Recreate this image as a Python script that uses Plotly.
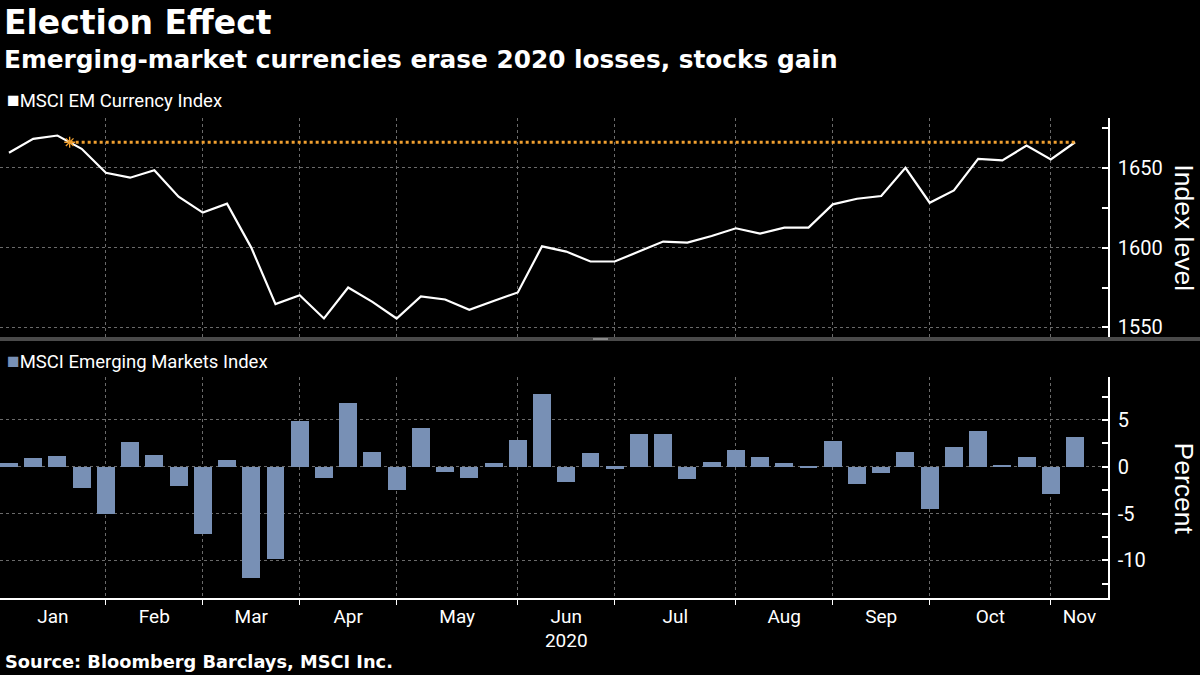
import pandas as pd
import plotly.graph_objects as go

# ---- data ----
dates = pd.date_range("2020-01-03", periods=45, freq="W-FRI")
currency_index = [1659.4, 1668.1, 1670.2, 1661.9, 1646.9, 1643.8, 1648.5, 1631.9, 1621.9, 1627.5,
                  1600.0, 1564.6, 1570.2, 1555.6, 1575.0, 1566.0, 1555.6, 1569.4, 1567.5, 1561.0,
                  1566.6, 1571.9, 1600.8, 1597.5, 1591.3, 1591.3, 1597.5, 1603.8, 1603.1, 1607.3,
                  1612.1, 1608.8, 1612.5, 1612.5, 1627.1, 1630.6, 1632.3, 1650.0, 1628.1, 1635.8,
                  1655.6, 1654.6, 1663.9, 1655.2, 1666.0]
em_stocks_pct = [0.45, 0.93, 1.2, -2.3, -5.0, 2.7, 1.3, -2.0, -7.2, 0.68,
                 -11.9, -9.8, 4.95, -1.2, 6.85, 1.54, -2.44, 4.2, -0.5, -1.15,
                 0.46, 2.83, 7.8, -1.58, 1.43, -0.18, 3.47, 3.47, -1.26, 0.57,
                 1.75, 1.0, 0.36, -0.05, 2.73, -1.87, -0.68, 1.54, -4.5, 2.17,
                 3.8, 0.14, 1.1, -2.87, 3.16]
top_ticks = [1550, 1600, 1650]
bottom_ticks = [5, 0, -5, -10]
month_labels = ["Jan", "Feb", "Mar", "Apr", "May", "Jun<br>2020", "Jul", "Aug", "Sep", "Oct", "Nov"]

title = "Election Effect"
subtitle = "Emerging-market currencies erase 2020 losses, stocks gain"
source = "Source: Bloomberg Barclays, MSCI Inc."

# ---- styling ----
W, H = 1200, 675
BG = "#000000"
WHITE = "#ffffff"
BAR = "#7890b5"
ORANGE = "#f0a030"
GRID = "#6a6a6a"
TICKFONT = "Liberation Sans Narrow, Roboto, Open Sans, sans-serif"
TITLEFONT = "Liberation Sans, Arial, sans-serif"
BOLDFONT = "DejaVu Sans, Noto Sans, sans-serif"

week = pd.Timedelta(days=7)
x_left = dates[0] - 0.37 * week
x_right = dates[-1] + 1.36 * week

# month boundaries: last week of each month (except the final month)
s = pd.Series(range(len(dates)), index=dates)
last_idx = s.groupby(dates.to_period("M")).max().tolist()
bounds = [dates[i] for i in last_idx[:-1]]
edges = [x_left] + bounds + [x_right]
mids = [edges[k] + (edges[k + 1] - edges[k]) / 2 for k in range(len(edges) - 1)]

# orange reference line: from where the series first falls below the final level
level = currency_index[-1]
start = dates[0]
for i in range(len(currency_index) - 1):
    a, b = currency_index[i], currency_index[i + 1]
    if a >= level > b:
        f = (a - level) / (a - b)
        start = dates[i] + f * week
        break

def py(y):
    return 1 - y / H

def px(x):
    return x / W

X_DOM = [0, px(1108)]
TOP_DOM = [py(338), py(118)]
BOT_DOM = [py(600), py(378)]

fig = go.Figure()
fig.add_trace(go.Scatter(x=dates, y=currency_index, mode="lines",
                         line=dict(color=WHITE, width=2.2), xaxis="x", yaxis="y",
                         showlegend=False, hoverinfo="skip"))
fig.add_trace(go.Scatter(x=[start, dates[-1]], y=[level, level], mode="lines",
                         line=dict(color=ORANGE, width=3, dash="dot"), xaxis="x", yaxis="y",
                         showlegend=False, hoverinfo="skip"))
fig.add_trace(go.Scatter(x=[start], y=[level], mode="markers",
                         marker=dict(symbol="asterisk-open", size=9, color=ORANGE,
                                     line=dict(color=ORANGE, width=1.3)),
                         xaxis="x", yaxis="y", showlegend=False, hoverinfo="skip"))
fig.add_trace(go.Bar(x=dates, y=em_stocks_pct, marker=dict(color=BAR, line=dict(width=0)),
                     width=0.74 * 7 * 86400000, xaxis="x2", yaxis="y2",
                     showlegend=False, hoverinfo="skip"))

minor_x = dict(tickmode="array", tickvals=bounds, showgrid=True, gridcolor=GRID,
               griddash="dot", gridwidth=1)

fig.update_layout(
    width=W, height=H, paper_bgcolor=BG, plot_bgcolor=BG,
    margin=dict(l=0, r=0, t=0, b=0),
    bargap=0,
    xaxis=dict(domain=X_DOM, anchor="y", range=[x_left, x_right], type="date",
               tickmode="array", tickvals=mids, ticktext=[""] * len(mids),
               showgrid=False, ticks="", showline=False, zeroline=False,
               minor=dict(minor_x, ticks=""), showticklabels=False),
    yaxis=dict(domain=TOP_DOM, anchor="x", side="right", range=[1544, 1681.4],
               tickmode="array", tickvals=top_ticks, ticktext=[str(v) for v in top_ticks],
               showgrid=True, gridcolor=GRID, griddash="dot", gridwidth=1,
               ticks="inside", ticklen=6, tickcolor=WHITE, tickwidth=1.5,
               showline=True, linecolor=WHITE, linewidth=1.5, zeroline=False,
               minor=dict(tickmode="array", tickvals=[1575, 1625, 1675], ticks="inside",
                          ticklen=6, tickcolor=WHITE, showgrid=False),
               tickfont=dict(family=TICKFONT, size=20, color=WHITE), ticklabelstandoff=4),
    xaxis2=dict(domain=X_DOM, anchor="y2", range=[x_left, x_right], type="date",
                tickmode="array", tickvals=mids, ticktext=month_labels,
                showgrid=False, ticks="", showline=True, linecolor=WHITE, linewidth=1.5,
                zeroline=False,
                minor=dict(minor_x, ticks="outside", ticklen=5, tickcolor=WHITE),
                tickfont=dict(family=TICKFONT, size=19, color=WHITE)),
    yaxis2=dict(domain=BOT_DOM, anchor="x2", side="right", range=[-14.05, 9.6],
                tickmode="array", tickvals=bottom_ticks, ticktext=[str(v) for v in bottom_ticks],
                showgrid=True, gridcolor=GRID, griddash="dot", gridwidth=1,
                ticks="inside", ticklen=6, tickcolor=WHITE, tickwidth=1.5,
                showline=True, linecolor=WHITE, linewidth=1.5, zeroline=False,
                minor=dict(tickmode="array", tickvals=[7.5, 2.5, -2.5, -7.5, -12.5],
                           ticks="inside", ticklen=6, tickcolor=WHITE, showgrid=False),
                tickfont=dict(family=TICKFONT, size=20, color=WHITE), ticklabelstandoff=4),
    shapes=[
        dict(type="rect", xref="paper", yref="paper", x0=0, x1=1, y0=py(342), y1=py(338),
             fillcolor="#4a4a4a", line=dict(width=0), layer="above"),
        dict(type="rect", xref="paper", yref="paper", x0=px(593), x1=px(608),
             y0=py(341), y1=py(339), fillcolor="#8a8a8a", line=dict(width=0), layer="above"),
    ],
    annotations=[
        dict(text=f"<b>{title}</b>", x=px(2), y=py(23), xref="paper", yref="paper",
             xanchor="left", yanchor="middle", showarrow=False,
             font=dict(family=BOLDFONT, size=33, color=WHITE)),
        dict(text=f"<b>{subtitle}</b>", x=px(2), y=py(60), xref="paper", yref="paper",
             xanchor="left", yanchor="middle", showarrow=False,
             font=dict(family=BOLDFONT, size=24.8, color=WHITE)),
        dict(text=f"<span style='color:{WHITE};font-size:21px'>■</span>MSCI EM Currency Index",
             x=px(5), y=py(100), xref="paper", yref="paper", xanchor="left", yanchor="middle",
             showarrow=False, font=dict(family=TICKFONT, size=18.5, color=WHITE)),
        dict(text=f"<span style='color:{BAR};font-size:21px'>■</span>MSCI Emerging Markets Index",
             x=px(5), y=py(362), xref="paper", yref="paper", xanchor="left", yanchor="middle",
             showarrow=False, font=dict(family=TICKFONT, size=18.5, color=WHITE)),
        dict(text="Index level", x=px(1184), y=py(228), xref="paper", yref="paper",
             xanchor="center", yanchor="middle", textangle=90, showarrow=False,
             font=dict(family=TITLEFONT, size=26.5, color=WHITE)),
        dict(text="Percent", x=px(1184), y=py(490), xref="paper", yref="paper",
             xanchor="center", yanchor="middle", textangle=90, showarrow=False,
             font=dict(family=TITLEFONT, size=26.5, color=WHITE)),
        dict(text=f"<b>{source}</b>", x=px(3), y=py(663), xref="paper", yref="paper",
             xanchor="left", yanchor="middle", showarrow=False,
             font=dict(family=BOLDFONT, size=17.8, color=WHITE)),
    ],
)

fig.write_html("out.html", config={"displayModeBar": False},
               post_script="document.body.style.margin='0';")
